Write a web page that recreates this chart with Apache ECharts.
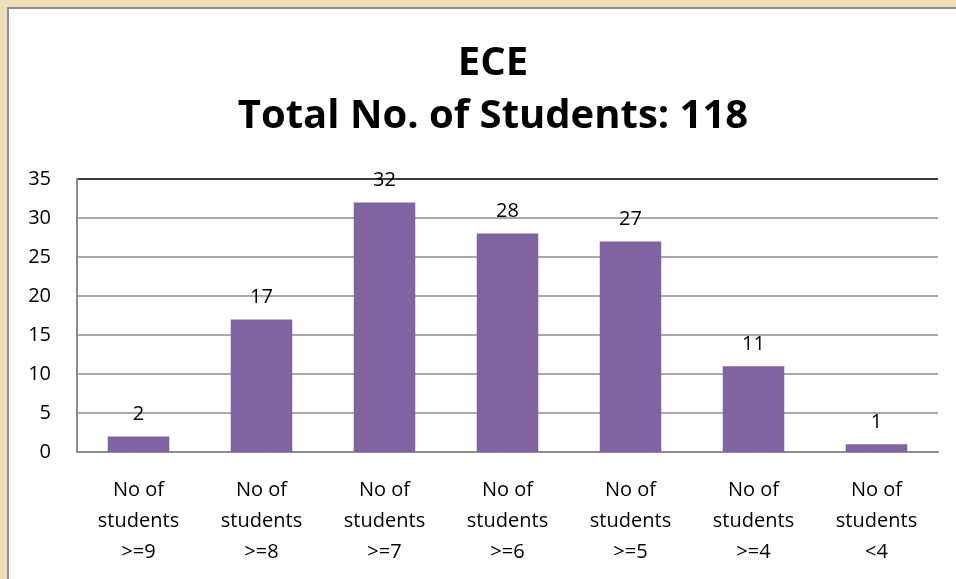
<!DOCTYPE html>
<html><head><meta charset="utf-8">
<script src="https://cdn.jsdelivr.net/npm/echarts@6/dist/echarts.min.js"></script>
<style>
html,body{margin:0;padding:0;width:956px;height:579px;overflow:hidden;background:#EFDFB9;}
#frame{position:absolute;left:7px;top:7px;width:960px;height:600px;background:#fff;border-left:2px solid #8f8f8f;border-top:2px solid #8f8f8f;box-sizing:border-box;}
#chart{position:absolute;left:0;top:0;width:956px;height:579px;}
</style></head>
<body><div id="frame"></div><div id="chart"></div>
<script>
const categories = ["No of\nstudents\n>=9","No of\nstudents\n>=8","No of\nstudents\n>=7","No of\nstudents\n>=6","No of\nstudents\n>=5","No of\nstudents\n>=4","No of\nstudents\n<4"];
const values = [2,17,32,28,27,11,1];
const titleLines = ["ECE","Total No. of Students: 118"];
const font = "'Open Sans', sans-serif";
const chart = echarts.init(document.getElementById('chart'));
chart.setOption({
  animation:false,
  title:{text:titleLines.join('\n'), left:488, textAlign:'center', top:32,
    textStyle:{fontFamily:font,fontWeight:'bold',fontSize:40,lineHeight:53,color:'#000'}},
  grid:{left:77,right:18,top:179,bottom:127,containLabel:false},
  xAxis:{type:'category',data:categories,
    axisLine:{lineStyle:{color:'#8c8c8c',width:2}},axisTick:{show:false},
    axisLabel:{fontFamily:font,fontSize:20,lineHeight:31,color:'#000',margin:23,interval:0}},
  yAxis:{type:'value',min:0,max:35,interval:5,
    axisLine:{show:true,lineStyle:{color:'#8c8c8c',width:2}},axisTick:{show:false},
    axisLabel:{fontFamily:font,fontSize:20,color:'#000',margin:26},
    splitLine:{lineStyle:{color:['#8c8c8c','#8c8c8c','#8c8c8c','#8c8c8c','#8c8c8c','#8c8c8c','#8c8c8c','#000'],width:1.5}}},
  series:[{type:'bar',data:values,barWidth:'50%',itemStyle:{color:'#8064A2'},
    label:{show:true,position:'top',distance:12,fontFamily:font,fontSize:20,color:'#000'}}]
});
</script></body></html>
